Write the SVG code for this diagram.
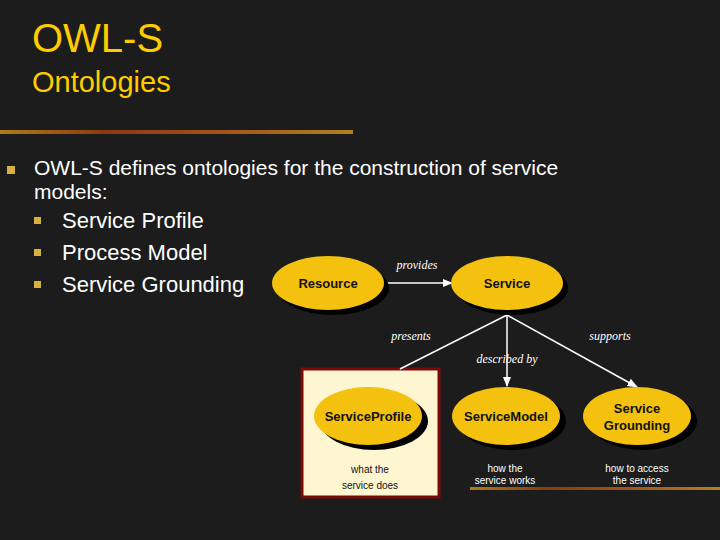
<svg xmlns="http://www.w3.org/2000/svg" width="720" height="540" viewBox="0 0 720 540">
<defs>
<style>
.t{font-family:"Liberation Sans",Arial,sans-serif;}
.ti{fill:#ffcc00;}
.b{fill:#fff;font-size:21px;}
.bl{fill:#e0e0e0;}
.el{fill:#f3c10e;}
.sh{fill:#000;}
.nl{font-family:"Liberation Sans",Arial,sans-serif;font-weight:bold;font-size:13px;fill:#111;text-anchor:middle;}
.el2{font-family:"Liberation Serif",serif;font-style:italic;font-size:12px;fill:#fff;text-anchor:middle;}
.cap{font-family:"Liberation Sans",Arial,sans-serif;font-size:10px;text-anchor:middle;}
.c{stroke:#fff;stroke-width:1.5;fill:none;}
</style>
<marker id="a" viewBox="0 0 10 10" refX="9" refY="5" markerWidth="7" markerHeight="7" orient="auto"><path d="M0,1L10,5L0,9z" fill="#fff"/></marker>
<linearGradient id="bar" x1="0" x2="1"><stop offset="0" stop-color="#b07a1a"/><stop offset="0.3" stop-color="#8a3a10"/><stop offset="0.6" stop-color="#a0501a"/><stop offset="1" stop-color="#b08020"/></linearGradient>
</defs>
<rect width="720" height="540" fill="#1c1c1c"/>
<text class="t ti" x="32" y="52" font-size="40">OWL-S</text>
<text class="t ti" x="32" y="92" font-size="29">Ontologies</text>
<rect x="0" y="130" width="353" height="4" fill="url(#bar)"/>
<rect x="470" y="487" width="250" height="3" fill="url(#bar)"/>
<rect x="7" y="166" width="8" height="8" fill="#d8b040"/>
<text class="t b" x="34" y="175">OWL-S defines ontologies for the construction of service</text>
<text class="t b" x="34" y="199">models:</text>
<g font-size="22" class="t" fill="#fff">
<rect x="34" y="217" width="7" height="7" fill="#d8b040"/><text x="62" y="228">Service Profile</text>
<rect x="34" y="249" width="7" height="7" fill="#d8b040"/><text x="62" y="260">Process Model</text>
<rect x="34" y="281" width="7" height="7" fill="#d8b040"/><text x="62" y="292">Service Grounding</text>
</g>
<rect x="302" y="369" width="137" height="128" fill="#fdf6d0" stroke="#7a0a0a" stroke-width="3"/>
<g id="connectors">
<line class="c" x1="384" y1="283" x2="452" y2="283" marker-end="url(#a)"/>
<line class="c" x1="507" y1="315" x2="400" y2="369"/>
<line class="c" x1="507" y1="315" x2="507" y2="386" marker-end="url(#a)"/>
<line class="c" x1="507" y1="315" x2="637" y2="387" marker-end="url(#a)"/>
<text class="el2" x="417" y="269">provides</text>
<text class="el2" x="411" y="340">presents</text>
<text class="el2" x="610" y="340">supports</text>
<text class="el2" x="507" y="363">described by</text>
</g>
<g id="resource"><ellipse class="sh" cx="333" cy="288" rx="56" ry="27"/><ellipse class="el" cx="328" cy="283" rx="56" ry="27"/><text class="nl" x="328" y="288">Resource</text></g>
<g id="service"><ellipse class="sh" cx="512" cy="288" rx="56" ry="27"/><ellipse class="el" cx="507" cy="283" rx="56" ry="27"/><text class="nl" x="507" y="288">Service</text></g>
<g id="profile"><ellipse class="sh" cx="374" cy="421" rx="54" ry="29"/><ellipse class="el" cx="368" cy="416" rx="54" ry="29"/><text class="nl" x="368" y="421">ServiceProfile</text>
<text class="cap" x="370" y="473" fill="#111">what the</text><text class="cap" x="370" y="489" fill="#111">service does</text></g>
<g id="model"><ellipse class="sh" cx="512" cy="421" rx="54" ry="29"/><ellipse class="el" cx="506" cy="416" rx="54" ry="29"/><text class="nl" x="506" y="421">ServiceModel</text>
<text class="cap" x="505" y="472" fill="#fff">how the</text><text class="cap" x="505" y="484" fill="#fff">service works</text></g>
<g id="grounding"><ellipse class="sh" cx="643" cy="421" rx="54" ry="29"/><ellipse class="el" cx="637" cy="416" rx="54" ry="29"/><text class="nl" x="637" y="413">Service</text><text class="nl" x="637" y="430">Grounding</text>
<text class="cap" x="637" y="472" fill="#fff">how to access</text><text class="cap" x="637" y="484" fill="#fff">the service</text></g>
</svg>
